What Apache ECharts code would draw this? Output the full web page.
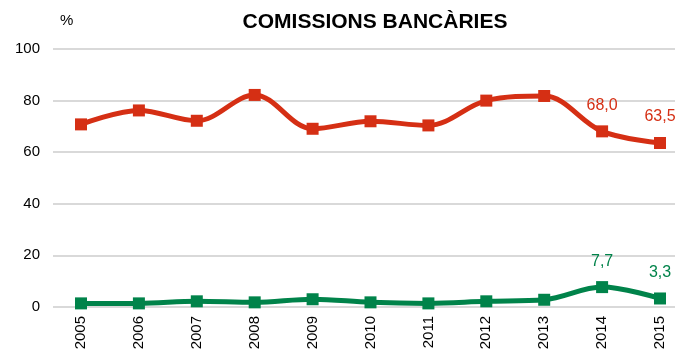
<!DOCTYPE html>
<html><head><meta charset="utf-8">
<script src="https://cdn.jsdelivr.net/npm/echarts@6/dist/echarts.min.js"></script>
<style>html,body{margin:0;padding:0;background:#fff}#c{width:675px;height:350px}</style>
</head><body><div id="c"></div>
<script>
const years = ['2005','2006','2007','2008','2009','2010','2011','2012','2013','2014','2015'];
const redValues = [70.7, 76.1, 72.1, 82.1, 69.0, 71.9, 70.3, 79.9, 81.7, 68.0, 63.5];
const greenValues = [1.4, 1.4, 2.2, 1.8, 3.0, 1.8, 1.4, 2.2, 2.8, 7.7, 3.3];
const yTicks = [0, 20, 40, 60, 80, 100];
const labeledFrom = 9;

const fmt = v => v.toFixed(1).replace('.', ',');
function mkSeries(vals, color) {
  return {
    type: 'line', smooth: 0.35, xAxisIndex: 1, yAxisIndex: 1,
    data: vals.map((v, i) => ({ value: v, label: { show: i >= labeledFrom } })),
    symbol: 'rect', symbolSize: 12,
    lineStyle: { color: color, width: 5 },
    itemStyle: { color: color },
    label: { position: 'top', distance: 12, color: color, fontSize: 16,
      fontFamily: 'Liberation Sans, Arial', formatter: p => fmt(p.value) },
    z: 3
  };
}
const TOP = 48.7, BOTTOM = 43;
const chart = echarts.init(document.getElementById('c'));
chart.setOption({
  animation: false,
  title: { text: 'COMISSIONS BANCÀRIES', left: 370, top: 7, textAlign: 'center',
    textStyle: { fontFamily: 'Liberation Sans, Arial', fontWeight: 'bold', fontSize: 21, color: '#000' } },
  graphic: [{ type: 'text', left: 60, top: 13, style: { text: '%', font: '15px Liberation Sans, Arial', fill: '#000' } }],
  grid: [
    { left: 53, right: 0, top: TOP, bottom: BOTTOM, outerBoundsMode: 'none' },
    { left: 81, right: 15, top: TOP, bottom: BOTTOM, outerBoundsMode: 'none' }
  ],
  xAxis: [
    { type: 'value', gridIndex: 0, show: false, min: 0, max: 1, splitLine: { show: false } },
    { type: 'category', gridIndex: 1, data: years, boundaryGap: false,
      axisLine: { show: false }, axisTick: { show: false }, splitLine: { show: false },
      axisLabel: { rotate: 90, fontSize: 15, color: '#000', fontFamily: 'Liberation Sans, Arial', margin: 9 } }
  ],
  yAxis: [
    { type: 'value', gridIndex: 0, min: 0, max: 100, interval: 20,
      axisLine: { show: false }, axisTick: { show: false },
      axisLabel: { fontSize: 15, color: '#000', fontFamily: 'Liberation Sans, Arial', margin: 13,
        formatter: v => yTicks.includes(v) ? String(v) : '' },
      splitLine: { lineStyle: { color: '#d9d9d9', width: 2 } } },
    { type: 'value', gridIndex: 1, min: 0, max: 100, interval: 20, show: false, splitLine: { show: false } }
  ],
  series: [mkSeries(redValues, '#d52f14'), mkSeries(greenValues, '#00834a')]
});
</script></body></html>
